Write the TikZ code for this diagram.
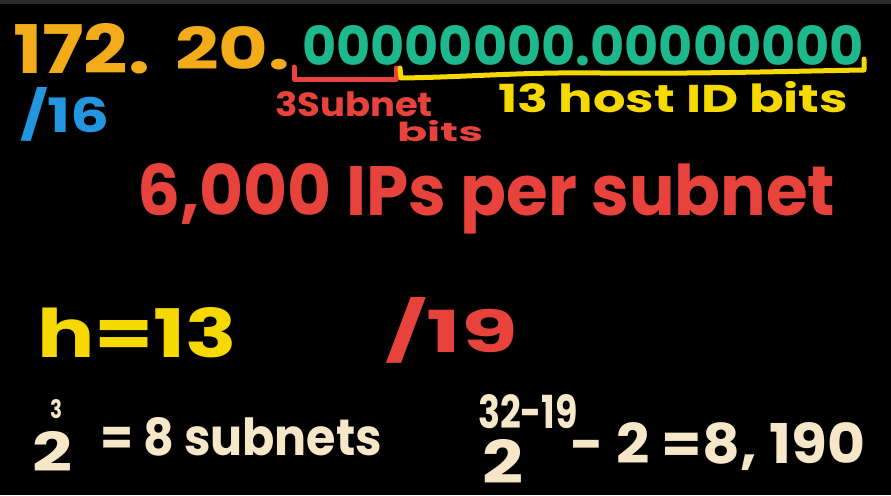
\documentclass[tikz,border=0pt]{standalone}
\usepackage{fontspec}
\setmainfont{Poppins}
\usepackage{graphicx}
\definecolor{orng}{HTML}{F2AC1A}
\definecolor{grn}{HTML}{1DB88C}
\definecolor{blu}{HTML}{2296DE}
\definecolor{redd}{HTML}{E8423C}
\definecolor{yel}{HTML}{F5D900}
\definecolor{crm}{HTML}{F6E7C9}
\definecolor{topbar}{HTML}{2B2B2B}
\newcommand{\fitxt}[3]{\resizebox{#1pt}{#2pt}{#3}}
\tikzset{
  hw/.style={inner sep=0pt, outer sep=0pt, anchor=base west, font=\bfseries},
  pen/.style={line width=5pt, line cap=round, line join=round}
}
\begin{document}
\begin{tikzpicture}[x=1pt,y=-1pt]
\fill[black] (0,0) rectangle (891,495);
\useasboundingbox (0,0) rectangle (891,495);
\fill[topbar] (0,0) rectangle (891,4);
% first line
\node[hw, text=orng] (ip1) at (13,73) {\fitxt{137}{50}{172.}};
\node[hw, text=orng] (ip2) at (175,70) {\fitxt{115}{43}{20.}};
\node[hw, text=grn] (bits) at (302,65) {\fitxt{562}{40}{00000000.00000000}};
% brackets
\coordinate (rb1) at (294,67);
\coordinate (rb2) at (294,79);
\coordinate (rb3) at (396,79);
\coordinate (rb4) at (396,68);
\draw[pen, redd] (rb1) -- (rb2) -- (rb3) -- (rb4);
\coordinate (yb1) at (400,68);
\coordinate (yb2) at (401,78);
\coordinate (yb3) at (600,73);
\coordinate (yb4) at (864,70);
\coordinate (yb5) at (864,59);
\draw[pen, yel] (yb1) -- (yb2) .. controls (470,77) and (520,72) .. (yb3) .. controls (700,74) and (800,71) .. (yb4) -- (yb5);
% labels
\node[hw, text=blu] (mask16) at (20,132) {\fitxt{90}{45}{/16}};
\node[hw, text=redd] (sub3) at (275,117) {\fitxt{158}{25}{3Subnet}};
\node[hw, text=redd] (subbits) at (397,141) {\fitxt{86}{21}{bits}};
\node[hw, text=yel] (host13) at (498,112) {\fitxt{350}{31}{13 host ID bits}};
\node[hw, text=redd] (need) at (137,215) {\fitxt{698}{52}{6,000 IPs per subnet}};
% middle
\node[hw, text=yel] (h13) at (37,357) {\fitxt{200}{50}{h=13}};
\node[hw, text=redd] (mask19) at (385,352) {\fitxt{133}{55}{/19}};
% bottom left
\node[hw, text=crm] (two1) at (32,471) {\fitxt{40}{40}{2}};
\node[hw, text=crm] (exp1) at (50,418) {\fitxt{12}{19}{3}};
\node[hw, text=crm] (nsub) at (100,455) {\fitxt{282}{38}{= 8 subnets}};
% bottom right
\node[hw, text=crm] (two2) at (482,483) {\fitxt{41}{44}{2}};
\node[hw, text=crm] (exp2) at (478,428) {\fitxt{100}{34}{32-19}};
\node[hw, text=crm] (nhost) at (570,463) {\fitxt{295}{41}{- 2 =8, 190}};
\end{tikzpicture}
\end{document}
